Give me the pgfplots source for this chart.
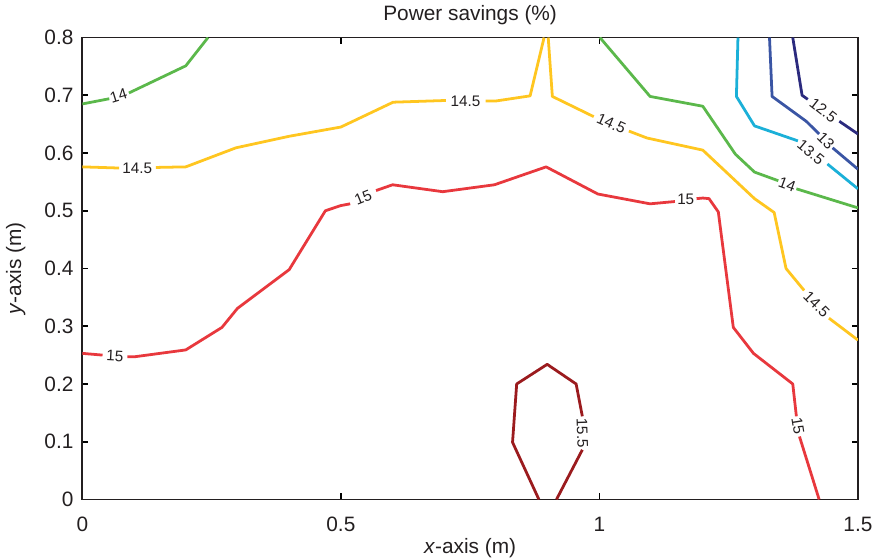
\documentclass[border=0pt]{standalone}
\usepackage{pgfplots}
\pgfplotsset{compat=1.18}
\usepackage{fontspec}
\setmainfont{Liberation Sans}
\definecolor{cnavy}{HTML}{2B2A7E}
\definecolor{cblue}{HTML}{3A55A4}
\definecolor{ccyan}{HTML}{1BB0D8}
\definecolor{cgreen}{HTML}{5BB84B}
\definecolor{cyellow}{HTML}{FFC620}
\definecolor{cred}{HTML}{E8383D}
\definecolor{cdred}{HTML}{9B1B1E}
\definecolor{ctxt}{HTML}{231F20}
\begin{document}
\begin{tikzpicture}
\begin{axis}[
  scale only axis, width=389.5bp, height=232bp,
  xmin=0, xmax=1.5, ymin=0, ymax=0.8,
  xtick={0,0.5,1,1.5}, xticklabels={0,0.5,1,1.5},
  ytick={0,0.1,0.2,0.3,0.4,0.5,0.6,0.7,0.8},
  yticklabels={0,0.1,0.2,0.3,0.4,0.5,0.6,0.7,0.8},
  tick align=inside, major tick length=3bp,
  tick style={black, line width=0.8pt},
  axis line style={line width=0.9pt, color=ctxt},
  font=\fontsize{10.5}{12}\selectfont,
  tick label style={font=\fontsize{10.5}{12}\selectfont, color=ctxt},
  xticklabel style={yshift=-5.5bp},
  yticklabel style={xshift=-1bp},
  /pgf/number format/assume math mode=true,
  title={Power savings (\%)},
  title style={at={(axis description cs:0.5,1)}, anchor=center, yshift=5.5bp, inner xsep=1bp, inner ysep=2.5bp, color=ctxt},
  xlabel={\textit{x}-axis (m)}, ylabel={\textit{y}-axis (m)},
  xlabel style={at={(axis description cs:0.5,0)}, anchor=center, yshift=-24.5bp, inner sep=1bp, color=ctxt},
  ylabel style={at={(axis description cs:0,0.5)}, anchor=center, yshift=33.5bp, inner sep=3bp, color=ctxt},
  every axis plot/.append style={line width=1.4pt, no markers, line join=round},
  clip=true,
]
% 14 (left)
\addplot[cgreen] coordinates {(0,0.685) (0.052,0.694)};
\addplot[cgreen] coordinates {(0.09,0.704) (0.2,0.751) (0.243,0.8)};
% 14.5
\addplot[cyellow] coordinates {(0,0.576) (0.071,0.574)};
\addplot[cyellow] coordinates {(0.142,0.575) (0.2,0.576) (0.297,0.609) (0.4,0.629) (0.5,0.645) (0.601,0.688) (0.703,0.691)};
\addplot[cyellow] coordinates {(0.78,0.69) (0.799,0.69) (0.866,0.699) (0.893,0.8)};
\addplot[cyellow] coordinates {(0.901,0.8) (0.909,0.698) (0.989,0.663)};
\addplot[cyellow] coordinates {(1.057,0.638) (1.092,0.626) (1.2,0.605) (1.3,0.521) (1.338,0.497) (1.361,0.4) (1.396,0.362)};
\addplot[cyellow] coordinates {(1.444,0.314) (1.5,0.276)};
% 15
\addplot[cred] coordinates {(0,0.253) (0.039,0.25)};
\addplot[cred] coordinates {(0.087,0.247) (0.1,0.247) (0.2,0.259) (0.27,0.298) (0.3,0.331) (0.4,0.398) (0.47,0.5) (0.5,0.509) (0.518,0.512)};
\addplot[cred] coordinates {(0.568,0.535) (0.6,0.545) (0.697,0.533) (0.797,0.545) (0.897,0.576) (0.997,0.529) (1.098,0.512) (1.146,0.516)};
\addplot[cred] coordinates {(1.188,0.521) (1.2,0.522) (1.212,0.521) (1.23,0.498) (1.259,0.298) (1.298,0.253) (1.374,0.2) (1.381,0.144)};
\addplot[cred] coordinates {(1.387,0.109) (1.425,0)};
% 15.5
\addplot[cdred] coordinates {(0.967,0.144) (0.955,0.2) (0.899,0.234) (0.84,0.2) (0.832,0.099) (0.883,0)};
\addplot[cdred] coordinates {(0.917,0) (0.967,0.086)};
% 14 (right)
\addplot[cgreen] coordinates {(1.001,0.8) (1.098,0.698) (1.2,0.681) (1.263,0.598) (1.3,0.567) (1.346,0.552)};
\addplot[cgreen] coordinates {(1.381,0.538) (1.5,0.505)};
% 13.5
\addplot[ccyan] coordinates {(1.268,0.8) (1.265,0.698) (1.3,0.647) (1.384,0.621)};
\addplot[ccyan] coordinates {(1.441,0.581) (1.5,0.538)};
% 13
\addplot[cblue] coordinates {(1.329,0.8) (1.334,0.698) (1.4,0.655) (1.425,0.633)};
\addplot[cblue] coordinates {(1.451,0.609) (1.5,0.572)};
% 12.5
\addplot[cnavy] coordinates {(1.374,0.8) (1.392,0.7) (1.403,0.693)};
\addplot[cnavy] coordinates {(1.464,0.655) (1.5,0.633)};
% labels
\begin{scope}[every node/.style={font=\fontsize{7.7}{9}\selectfont, text=ctxt, inner sep=0pt}]
\node[rotate=17] at (axis cs:0.07,0.699) {14};
\node at (axis cs:0.106,0.573) {14.5};
\node at (axis cs:0.741,0.69) {14.5};
\node[rotate=-24] at (axis cs:1.023,0.651) {14.5};
\node[rotate=-3] at (axis cs:0.063,0.248) {15};
\node[rotate=22] at (axis cs:0.543,0.523) {15};
\node at (axis cs:1.167,0.519) {15};
\node[rotate=-81] at (axis cs:1.384,0.127) {15};
\node[rotate=-88] at (axis cs:0.967,0.115) {15.5};
\node[rotate=-20] at (axis cs:1.363,0.545) {14};
\node[rotate=-45] at (axis cs:1.42,0.338) {14.5};
\node[rotate=-40] at (axis cs:1.409,0.601) {13.5};
\node[rotate=-45] at (axis cs:1.438,0.622) {13};
\node[rotate=-38] at (axis cs:1.433,0.674) {12.5};
\end{scope}
\end{axis}
\end{tikzpicture}
\end{document}
